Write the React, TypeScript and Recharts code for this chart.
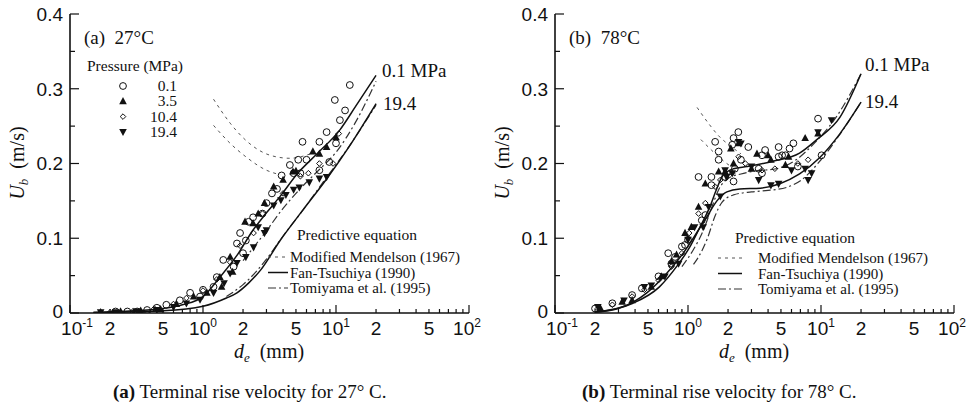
import React from "react";
import { ComposedChart, Line, Scatter, XAxis, YAxis } from "recharts";

// ---------- axis ticks ----------
const X_TICKS = [0.1, 0.2, 0.3, 0.4, 0.5, 0.6, 0.7, 0.8, 0.9, 1, 2, 3, 4, 5, 6, 7, 8, 9, 10, 20, 30, 40, 50, 60, 70, 80, 90, 100];
const X_DECADES = [0.1, 1, 10, 100];
const X_LABELS: Record<string, [string, string]> = {
  "0.1": ["10", "-1"], "0.2": ["2", ""], "0.5": ["5", ""],
  "1": ["10", "0"], "2": ["2", ""], "5": ["5", ""],
  "10": ["10", "1"], "20": ["2", ""], "50": ["5", ""], "100": ["10", "2"],
};
const Y_TICKS = [0, 0.05, 0.1, 0.15, 0.2, 0.25, 0.3, 0.35, 0.4];
const Y_LABELS: Record<string, string> = { "0": "0", "0.1": "0.1", "0.2": "0.2", "0.3": "0.3", "0.4": "0.4" };

const PRESSURES = ["0.1", "3.5", "10.4", "19.4"];
const EQUATIONS = ["Modified Mendelson (1967)", "Fan-Tsuchiya (1990)", "Tomiyama et al. (1995)"];

// ---------- panel (a) 27°C : measured [d_e mm, U_b m/s] ----------
const a_p01 = [[12.7,0.305],[9.8,0.285],[11.7,0.271],[10.7,0.258],[5.6,0.229],[8.5,0.242],[7.5,0.229],[10,0.227],[6.0,0.205],[5.2,0.205],[4.5,0.198],[4.8,0.187],[5.4,0.187],[7.5,0.191],[8.9,0.202],[3.9,0.184],[3.6,0.166],[3.3,0.16],[3.0,0.147],[2.8,0.133],[2.38,0.128],[2.2,0.122],[1.9,0.107],[2.1,0.097],[1.8,0.093],[2.0,0.08],[1.42,0.071],[1.7,0.062],[1.27,0.048],[1.2,0.035],[1.0,0.031],[0.95,0.022],[0.8,0.027],[0.67,0.017],[0.53,0.011],[0.45,0.007],[0.38,0.004],[0.32,0.002],[0.27,0.002],[0.22,0.002]];
const a_p35 = [[10,0.235],[8.5,0.222],[7.5,0.213],[6.7,0.216],[4.75,0.189],[5.0,0.19],[4.0,0.178],[3.4,0.169],[2.9,0.147],[2.6,0.133],[2.07,0.122],[2.38,0.12],[1.6,0.075],[1.67,0.055],[1.34,0.048],[1.38,0.035],[1.07,0.027],[0.85,0.022],[0.63,0.012],[0.48,0.005],[0.34,0.003],[0.24,0.002],[0.17,0.001]];
const a_p104 = [[10.5,0.24],[9.5,0.2],[7.5,0.2],[6.2,0.187],[5.4,0.183],[4.0,0.16],[2.8,0.133],[2.4,0.107],[1.9,0.09],[1.6,0.068],[1.27,0.045],[1.0,0.03],[0.75,0.02],[0.6,0.012],[0.43,0.006],[0.3,0.003],[0.2,0.001]];
const a_p194 = [[8.5,0.182],[7.5,0.18],[6.3,0.175],[5.3,0.168],[4.8,0.165],[4.2,0.158],[3.85,0.151],[3.4,0.144],[3.0,0.111],[2.9,0.107],[2.6,0.115],[2.4,0.088],[2.1,0.075],[1.8,0.067],[1.6,0.053],[1.44,0.04],[1.2,0.027],[0.95,0.018],[0.75,0.013],[0.6,0.008],[0.45,0.004],[0.32,0.002],[0.22,0.001],[0.17,0.001]];
// predictive curves (a)
const a_ft01 = [[0.15,0.001],[0.3,0.003],[0.5,0.006],[0.7,0.011],[1,0.022],[1.34,0.048],[1.8,0.077],[2.38,0.111],[3,0.134],[3.8,0.156],[5.1,0.186],[7.2,0.213],[10.7,0.245],[14,0.276],[20,0.318]];
const a_ft194 = [[0.15,0.0005],[0.5,0.003],[1,0.009],[1.5,0.02],[1.8,0.027],[2.2,0.04],[2.7,0.057],[3.8,0.097],[5.65,0.138],[8.55,0.18],[12.7,0.224],[20,0.28]];
const a_tm01 = [[2,0.07],[3,0.11],[4,0.14],[5.5,0.168],[7.5,0.192],[10,0.215],[14,0.255],[20,0.31]];
const a_tm194 = [[1.5,0.022],[2,0.038],[2.5,0.055],[3,0.072],[4,0.103],[5.5,0.135],[8,0.175],[12,0.218],[20,0.278]];
const a_md01 = [[1.2,0.286],[1.6,0.254],[2.1,0.231],[3.2,0.211],[4.5,0.207],[6.7,0.214]];
const a_md194 = [[1.2,0.251],[1.6,0.227],[2.1,0.209],[3,0.191],[3.8,0.185]];

// ---------- panel (b) 78°C ----------
const b_p01 = [[9.5,0.26],[10.1,0.211],[6.2,0.227],[5.8,0.22],[5.1,0.211],[4.8,0.209],[3.8,0.218],[3.6,0.211],[3.4,0.193],[3.6,0.187],[2.84,0.222],[2.39,0.242],[2.2,0.234],[2.15,0.225],[2.5,0.205],[2.25,0.193],[2.2,0.176],[1.9,0.182],[1.7,0.216],[1.6,0.229],[1.7,0.205],[1.5,0.182],[1.2,0.182],[1.5,0.171],[1.35,0.131],[1.27,0.124],[1.0,0.098],[0.95,0.091],[0.9,0.089],[0.8,0.075],[0.71,0.08],[0.75,0.066],[0.6,0.049],[0.45,0.033],[0.38,0.024],[0.27,0.013],[0.2,0.006],[4.8,0.222],[5.4,0.211],[6.7,0.196]];
const b_p35 = [[7.6,0.234],[9.5,0.24],[5.7,0.209],[5.4,0.198],[4.2,0.205],[4.0,0.211],[3.3,0.213],[3.0,0.193],[2.4,0.227],[2.1,0.22],[2.2,0.2],[1.9,0.189],[1.7,0.189],[1.35,0.173],[1.2,0.142],[1.06,0.115],[0.95,0.107],[0.82,0.078],[0.75,0.069],[0.63,0.049],[0.53,0.035],[0.38,0.017],[0.32,0.015],[0.22,0.006]];
const b_p104 = [[8.0,0.205],[6.7,0.2],[4.5,0.193],[3.6,0.191],[2.7,0.2],[2.4,0.209],[2.15,0.187],[1.75,0.178],[1.6,0.169],[1.35,0.147],[1.2,0.133],[1.02,0.107],[0.9,0.08],[0.75,0.062],[0.6,0.044],[0.47,0.031],[0.38,0.022],[0.27,0.011],[0.21,0.006]];
const b_p194 = [[12,0.258],[9.5,0.242],[8.5,0.187],[8.0,0.178],[7.6,0.193],[6.0,0.191],[4.8,0.173],[4.2,0.171],[3.4,0.178],[3.0,0.196],[2.5,0.227],[2.4,0.229],[2.15,0.187],[1.9,0.191],[1.95,0.182],[1.75,0.156],[1.43,0.142],[1.3,0.115],[1.12,0.115],[1.0,0.098],[0.85,0.066],[0.67,0.049],[0.53,0.037],[0.47,0.035],[0.33,0.017],[0.21,0.008]];
// predictive curves (b)
const b_ft01 = [[0.2,0.001],[0.385,0.013],[0.61,0.035],[0.82,0.062],[1.03,0.088],[1.23,0.115],[1.46,0.142],[1.65,0.167],[1.83,0.184],[2.2,0.193],[2.78,0.196],[4.35,0.203],[6.9,0.214],[9.3,0.232],[13.9,0.262],[20,0.32]];
const b_ft194 = [[0.2,0.001],[0.31,0.007],[0.49,0.027],[0.69,0.053],[0.92,0.08],[1.16,0.107],[1.38,0.128],[1.65,0.15],[1.96,0.162],[2.45,0.166],[3.5,0.167],[4.9,0.173],[6.9,0.186],[9.8,0.208],[13.9,0.24],[20,0.282]];
const b_tm01 = [[0.9,0.062],[1.1,0.085],[1.3,0.11],[1.5,0.14],[1.7,0.165],[2,0.18],[2.5,0.186],[3.2,0.19],[4.6,0.193],[6.5,0.205],[9,0.228],[13,0.262],[20,0.32]];
const b_tm194 = [[1.1,0.065],[1.2,0.075],[1.4,0.1],[1.6,0.13],[1.8,0.148],[2.2,0.158],[3,0.162],[4,0.164],[5.5,0.168],[7,0.177],[10,0.205],[14,0.24],[20,0.282]];
const b_md01 = [[1.17,0.275],[1.45,0.252],[1.7,0.237],[2.1,0.223],[2.5,0.213]];
const b_md194 = [[1.25,0.232],[1.5,0.218],[1.8,0.205],[2.1,0.196]];

const toPts = (a: number[][]) => a.map(([d, u]) => ({ d, u }));

const SANS = "'Liberation Sans', Arial, Helvetica, sans-serif";
const SERIF = "'Liberation Serif', 'Times New Roman', serif";
const INK = "#111";

// ---------- marker shapes ----------
const Circle = (p: any) => <circle cx={p.cx} cy={p.cy} r={3.4} fill="none" stroke={INK} strokeWidth={1} />;
const Diamond = (p: any) => (
  <polygon points={`${p.cx},${p.cy - 2.8} ${p.cx + 2.8},${p.cy} ${p.cx},${p.cy + 2.8} ${p.cx - 2.8},${p.cy}`} fill="none" stroke={INK} strokeWidth={1} />
);
const TriUp = (p: any) => (
  <polygon points={`${p.cx},${p.cy - 4.2} ${p.cx + 3.8},${p.cy + 2.9} ${p.cx - 3.8},${p.cy + 2.9}`} fill={INK} />
);
const TriDown = (p: any) => (
  <polygon points={`${p.cx},${p.cy + 4.2} ${p.cx + 3.8},${p.cy - 2.9} ${p.cx - 3.8},${p.cy - 2.9}`} fill={INK} />
);

// ---------- tick renderers (ticks point inward) ----------
const BottomTick = (p: any) => {
  const { x, y, payload } = p;
  const v = payload.value;
  const len = X_DECADES.includes(v) ? 8 : 4;
  const lab = X_LABELS[String(v)];
  const shift = lab && lab[1] === "-1" ? 7 : lab && lab[1] === "2" ? -2 : 0;
  return (
    <g>
      <line x1={x} y1={y} x2={x} y2={y - len} stroke={INK} strokeWidth={1.2} />
      {lab && (
        <text x={x + shift} y={y + 22} textAnchor="middle" fontFamily={SANS} fontSize={19} fill={INK}>
          {lab[0]}
          {lab[1] !== "" && <tspan dy={-8} fontSize={12}>{lab[1]}</tspan>}
        </text>
      )}
    </g>
  );
};
const TopTick = (p: any) => {
  const { x, y, payload } = p;
  const len = X_DECADES.includes(payload.value) ? 8 : 4;
  return <line x1={x} y1={y} x2={x} y2={y + len} stroke={INK} strokeWidth={1.2} />;
};
const LeftTick = (p: any) => {
  const { x, y, payload } = p;
  const lab = Y_LABELS[String(payload.value)];
  const len = lab !== undefined ? 9 : 5;
  return (
    <g>
      <line x1={x} y1={y} x2={x + len} y2={y} stroke={INK} strokeWidth={1.2} />
      {lab !== undefined && (
        <text x={x - 7} y={payload.value === 0 ? y - 2 : y} dy="0.36em" textAnchor="end" fontFamily={SANS} fontSize={19} fill={INK}>
          {lab}
        </text>
      )}
    </g>
  );
};
const RightTick = (p: any) => {
  const { x, y, payload } = p;
  const len = Y_LABELS[String(payload.value)] !== undefined ? 9 : 5;
  return <line x1={x} y1={y} x2={x - len} y2={y} stroke={INK} strokeWidth={1.2} />;
};

const AX = { xAxisId: "b", yAxisId: "l" };
const FT = { stroke: INK, strokeWidth: 1.5 };
const TM = { stroke: "#333", strokeWidth: 1.2, strokeDasharray: "8 3 2 3" };
const MD = { stroke: "#555", strokeWidth: 1, strokeDasharray: "3 4" };

type PanelProps = {
  p01: number[][]; p35: number[][]; p104: number[][]; p194: number[][];
  ft01: number[][]; ft194: number[][]; tm01: number[][]; tm194: number[][];
  md01: number[][]; md194: number[][];
  tag: string; caption: string; captionTag: string; captionX: number;
  showPressure: boolean;
  lab01: [number, number]; lab194: [number, number];
  eqTitle: [number, number]; eqText: number; eqLine: [number, number]; eqRows: number[];
};

function Panel(pp: PanelProps) {
  const symbols = [Circle, TriUp, Diamond, TriDown];
  return (
    <div style={{ position: "relative", width: 485, height: 412 }}>
      <ComposedChart width={485} height={412} margin={{ top: 14, right: 16, bottom: 59, left: 0 }} style={{ overflow: "visible" }}>
        <XAxis xAxisId="b" dataKey="d" type="number" scale="log" domain={[0.1, 100]} allowDataOverflow
          ticks={X_TICKS} interval={0} tick={<BottomTick />} tickLine={false} tickSize={0} tickMargin={0}
          axisLine={{ stroke: INK, strokeWidth: 1.6 }} height={40} />
        <XAxis xAxisId="t" orientation="top" dataKey="d" type="number" scale="log" domain={[0.1, 100]} allowDataOverflow
          ticks={X_TICKS} interval={0} tick={<TopTick />} tickLine={false} tickSize={0} tickMargin={0}
          axisLine={{ stroke: INK, strokeWidth: 1.6 }} height={0} />
        <YAxis yAxisId="l" dataKey="u" type="number" domain={[0, 0.4]} allowDataOverflow
          ticks={Y_TICKS} interval={0} tick={<LeftTick />} tickLine={false} tickSize={0} tickMargin={0}
          axisLine={{ stroke: INK, strokeWidth: 1.6 }} width={70} />
        <YAxis yAxisId="r" orientation="right" dataKey="u" type="number" domain={[0, 0.4]} allowDataOverflow
          ticks={Y_TICKS} interval={0} tick={<RightTick />} tickLine={false} tickSize={0} tickMargin={0}
          axisLine={{ stroke: INK, strokeWidth: 1.6 }} width={0} />

        <Line {...AX} data={toPts(pp.md01)} dataKey="u" type="monotone" dot={false} {...MD} isAnimationActive={false} />
        <Line {...AX} data={toPts(pp.md194)} dataKey="u" type="monotone" dot={false} {...MD} isAnimationActive={false} />
        <Line {...AX} data={toPts(pp.tm01)} dataKey="u" type="monotone" dot={false} {...TM} isAnimationActive={false} />
        <Line {...AX} data={toPts(pp.tm194)} dataKey="u" type="monotone" dot={false} {...TM} isAnimationActive={false} />
        <Line {...AX} data={toPts(pp.ft01)} dataKey="u" type="monotone" dot={false} {...FT} isAnimationActive={false} />
        <Line {...AX} data={toPts(pp.ft194)} dataKey="u" type="monotone" dot={false} {...FT} isAnimationActive={false} />

        <Scatter {...AX} data={toPts(pp.p01)} dataKey="u" shape={Circle} isAnimationActive={false} />
        <Scatter {...AX} data={toPts(pp.p104)} dataKey="u" shape={Diamond} isAnimationActive={false} />
        <Scatter {...AX} data={toPts(pp.p35)} dataKey="u" shape={TriUp} isAnimationActive={false} />
        <Scatter {...AX} data={toPts(pp.p194)} dataKey="u" shape={TriDown} isAnimationActive={false} />
      </ComposedChart>

      <svg width={485} height={412} style={{ position: "absolute", left: 0, top: 0, pointerEvents: "none" }}>
        {/* axis titles */}
        <g transform="translate(24,163) rotate(-90)">
          <text x={0} y={0} textAnchor="middle" fontFamily={SERIF} fontSize={20} fill={INK}>
            <tspan fontStyle="italic">U</tspan>
            <tspan fontStyle="italic" fontSize={13} dy={4}>b</tspan>
            <tspan dy={-4} xmlSpace="preserve">{"  (m/s)"}</tspan>
          </text>
        </g>
        <text x={269} y={358} textAnchor="middle" fontFamily={SERIF} fontSize={20} fill={INK} xmlSpace="preserve">
          <tspan fontStyle="italic">d</tspan>
          <tspan fontStyle="italic" fontSize={13} dy={4}>e</tspan>
          <tspan dy={-4}>{"  (mm)"}</tspan>
        </text>

        {/* caption */}
        <text x={pp.captionX} y={398} fontFamily={SERIF} fontSize={19} fill={INK}>
          <tspan fontWeight="bold">{pp.captionTag}</tspan>
          <tspan>{" " + pp.caption}</tspan>
        </text>

        {/* panel tag */}
        <text x={84} y={44} fontFamily={SERIF} fontSize={19} fill={INK} xmlSpace="preserve">{pp.tag}</text>

        {/* pressure legend */}
        {pp.showPressure && (
          <g>
            <text x={87} y={71} fontFamily={SERIF} fontSize={15.5} fill={INK}>Pressure (MPa)</text>
            {PRESSURES.map((p, i) => {
              const S = symbols[i];
              const by = 91 + i * 15.3;
              return (
                <g key={p}>
                  <S cx={123} cy={by - 5} />
                  <text x={177} y={by} textAnchor="end" fontFamily={SERIF} fontSize={15.5} fill={INK}>{p}</text>
                </g>
              );
            })}
          </g>
        )}

        {/* curve end labels */}
        <text x={pp.lab01[0]} y={pp.lab01[1]} fontFamily={SERIF} fontSize={19} fill={INK}>0.1 MPa</text>
        <text x={pp.lab194[0]} y={pp.lab194[1]} fontFamily={SERIF} fontSize={19} fill={INK}>19.4</text>

        {/* predictive equation legend */}
        <text x={pp.eqTitle[0]} y={pp.eqTitle[1]} fontFamily={SERIF} fontSize={15.5} fill={INK}>Predictive equation</text>
        {EQUATIONS.map((e, i) => {
          const by = pp.eqRows[i];
          const st = i === 0 ? MD : i === 1 ? FT : TM;
          return (
            <g key={e}>
              <line x1={pp.eqLine[0]} x2={pp.eqLine[1]} y1={by - 5} y2={by - 5} {...st} />
              <text x={pp.eqText} y={by} fontFamily={SERIF} fontSize={15} fill={INK}>{e}</text>
            </g>
          );
        })}
      </svg>
    </div>
  );
}

export default function App() {
  return (
    <div style={{ position: "absolute", left: 0, top: 0, width: 970, height: 412, background: "#fff", display: "flex" }}>
      <Panel p01={a_p01} p35={a_p35} p104={a_p104} p194={a_p194}
        ft01={a_ft01} ft194={a_ft194} tm01={a_tm01} tm194={a_tm194} md01={a_md01} md194={a_md194}
        tag={"(a)  27°C"} captionTag="(a)" caption="Terminal rise velocity for 27° C." captionX={113}
        showPressure={true} lab01={[382, 77]} lab194={[383, 110]}
        eqTitle={[297, 240]} eqText={290} eqLine={[268, 288]} eqRows={[262, 277.5, 293]} />
      <Panel p01={b_p01} p35={b_p35} p104={b_p104} p194={b_p194}
        ft01={b_ft01} ft194={b_ft194} tm01={b_tm01} tm194={b_tm194} md01={b_md01} md194={b_md194}
        tag={"(b)  78°C"} captionTag="(b)" caption="Terminal rise velocity for 78° C." captionX={97}
        showPressure={false} lab01={[380, 71]} lab194={[380, 108]}
        eqTitle={[250, 243]} eqText={273} eqLine={[233, 257]} eqRows={[263, 278.5, 294]} />
    </div>
  );
}
